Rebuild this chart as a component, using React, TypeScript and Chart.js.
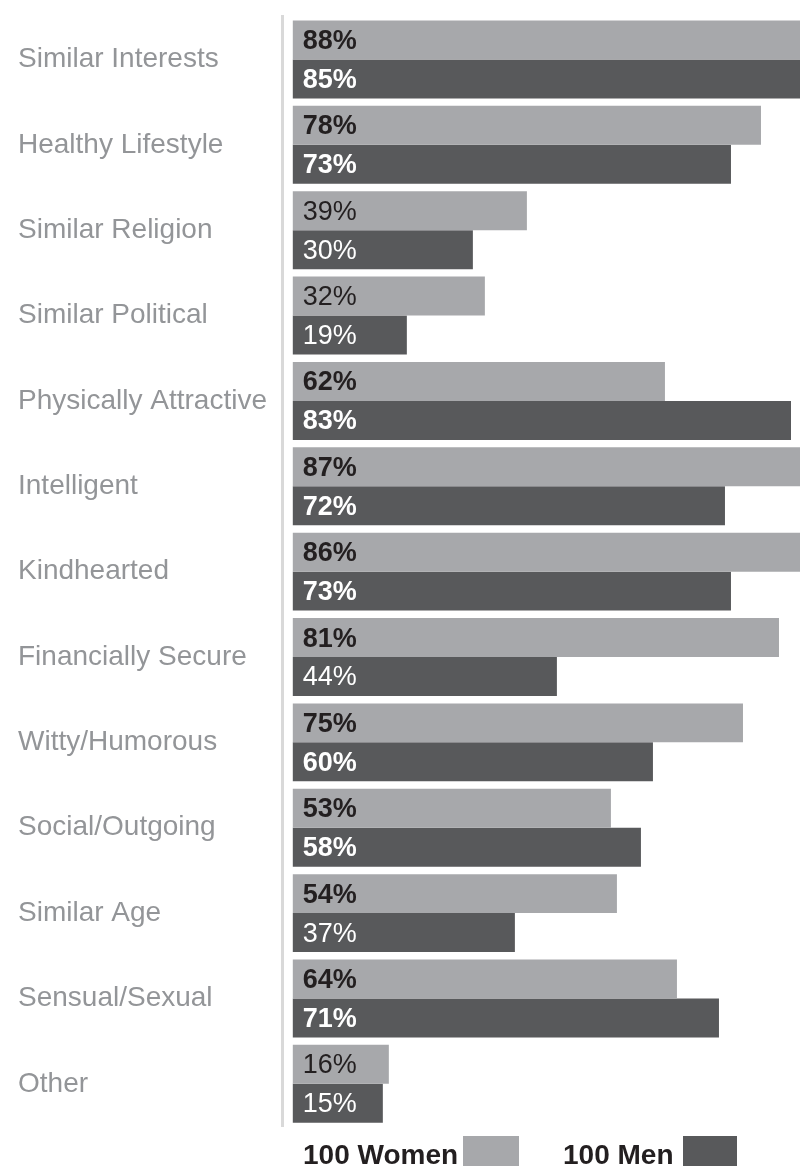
import React, { useEffect, useRef } from "react";
import { Chart, registerables } from "chart.js";

Chart.register(...registerables);

const categories = [
  "Similar Interests",
  "Healthy Lifestyle",
  "Similar Religion",
  "Similar Political",
  "Physically Attractive",
  "Intelligent",
  "Kindhearted",
  "Financially Secure",
  "Witty/Humorous",
  "Social/Outgoing",
  "Similar Age",
  "Sensual/Sexual",
  "Other",
];

const women = [88, 78, 39, 32, 62, 87, 86, 81, 75, 53, 54, 64, 16];
const men = [85, 73, 30, 19, 83, 72, 73, 44, 60, 58, 37, 71, 15];

const seriesLabels = ["100 Women", "100 Men"];
const LIGHT = "#a7a8ab";
const DARK = "#58595b";
const FONT = "'Liberation Sans', Arial, Helvetica, sans-serif";

const valueLabelPlugin = {
  id: "valueLabels",
  afterDatasetsDraw(chart: any) {
    const ctx = chart.ctx;
    ctx.save();
    chart.data.datasets.forEach((ds: any, di: number) => {
      const meta = chart.getDatasetMeta(di);
      meta.data.forEach((bar: any, i: number) => {
        const v = ds.data[i] as number;
        const bold = v >= 50;
        ctx.font = `${bold ? "bold " : ""}27px ${FONT}`;
        ctx.fillStyle = di === 0 ? "#231f20" : "#ffffff";
        ctx.textAlign = "left";
        ctx.textBaseline = "alphabetic";
        ctx.fillText(`${v}%`, bar.base + 10, bar.y + 9);
      });
    });
    ctx.restore();
  },
};

export default function App() {
  const ref = useRef<HTMLCanvasElement>(null);

  useEffect(() => {
    document.body.style.margin = "0";
    const canvas = ref.current;
    if (!canvas) return;
    const chart = new Chart(canvas, {
      type: "bar",
      data: {
        labels: categories,
        datasets: [
          {
            label: seriesLabels[0],
            data: women,
            backgroundColor: LIGHT,
            borderWidth: 0,
            barPercentage: 1.0,
            categoryPercentage: 0.913,
          },
          {
            label: seriesLabels[1],
            data: men,
            backgroundColor: DARK,
            borderWidth: 0,
            barPercentage: 1.0,
            categoryPercentage: 0.913,
          },
        ],
      },
      options: {
        indexAxis: "y",
        animation: false,
        responsive: false,
        maintainAspectRatio: false,
        layout: { padding: { top: 15.5, bottom: 39.5, left: 18, right: 0 } },
        plugins: {
          legend: { display: false },
          tooltip: { enabled: false },
        },
        scales: {
          x: {
            display: false,
            min: -1.8,
            max: 84.5,
          },
          y: {
            afterFit: (scale: any) => {
              scale.width = 264;
            },
            grid: { display: false },
            border: { display: true, color: "#d9d9d9", width: 3 },
            ticks: {
              crossAlign: "far",
              color: "#939598",
              font: { family: FONT, size: 28 },
              padding: 0,
            },
          },
        },
      },
      plugins: [valueLabelPlugin],
    });
    return () => chart.destroy();
  }, []);

  const legendText: React.CSSProperties = {
    position: "absolute",
    top: 1141,
    fontFamily: FONT,
    fontWeight: "bold",
    fontSize: 28,
    lineHeight: "28px",
    color: "#231f20",
    whiteSpace: "nowrap",
  };

  return (
    <div style={{ position: "relative", width: 800, height: 1166, overflow: "hidden" }}>
      <canvas ref={ref} width={800} height={1166} style={{ display: "block" }} />
      <div style={{ ...legendText, left: 303 }}>{seriesLabels[0]}</div>
      <div style={{ position: "absolute", left: 463, top: 1136, width: 56, height: 30, background: LIGHT }} />
      <div style={{ ...legendText, left: 563 }}>{seriesLabels[1]}</div>
      <div style={{ position: "absolute", left: 683, top: 1136, width: 54, height: 30, background: DARK }} />
    </div>
  );
}
